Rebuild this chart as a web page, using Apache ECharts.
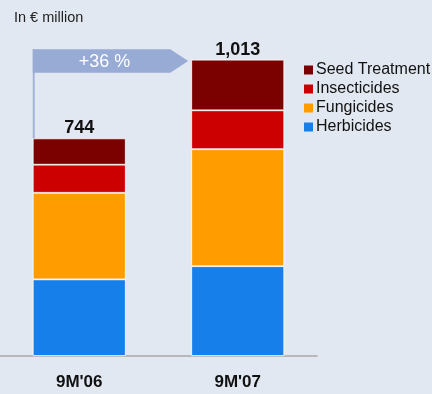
<!DOCTYPE html>
<html><head><meta charset="utf-8">
<script src="https://cdn.jsdelivr.net/npm/echarts@6/dist/echarts.min.js"></script>
<style>html,body{margin:0;padding:0;background:#e2e8f1;}#c{width:432px;height:394px;}</style>
</head><body><div id="c"></div>
<script>
var categories = ["9M'06", "9M'07"];
var herbicides = [262, 307];
var fungicides = [296, 400];
var insecticides = [96, 133];
var seedTreatment = [90, 173];
var totals = ["744", "1,013"];
var growthLabel = "+36 %";
var unitLabel = "In \u20ac million";

var chart = echarts.init(document.getElementById('c'), null, {renderer: 'canvas'});
var FONT = '"Liberation Sans", Arial, sans-serif';
function mk(name, data, color, extra) {
  var s = {name: name, type: 'bar', stack: 'a', data: data, barWidth: 93,
    itemStyle: {color: color, borderColor: '#ffffff', borderWidth: 0.8}, animation: false};
  if (extra) for (var k in extra) s[k] = extra[k];
  return s;
}
var option = {
  backgroundColor: '#e2e8f1',
  animation: false,
  title: {text: unitLabel, left: 9, top: 5, textStyle: {fontFamily: FONT, fontSize: 14.5, fontWeight: 'normal', color: '#222'}},
  legend: {orient: 'vertical', left: 299, top: 57, itemWidth: 9, itemHeight: 9, itemGap: 3, icon: 'rect',
    itemStyle: {borderWidth: 0},
    data: ['Seed Treatment', 'Insecticides', 'Fungicides', 'Herbicides'],
    textStyle: {fontFamily: FONT, fontSize: 16, color: '#111', padding: [0, 0, 0, -2]}},
  grid: {left: 0, width: 317, top: 5, bottom: 38},
  xAxis: {type: 'category', data: categories, axisTick: {show: false},
    axisLine: {lineStyle: {color: '#a8a8a8', width: 1.5}},
    axisLabel: {margin: 18, fontFamily: FONT, fontSize: 17, fontWeight: 'bold', color: '#111'}},
  yAxis: {type: 'value', min: 0, max: 1200, show: false, splitLine: {show: false}},
  series: [
    mk('Herbicides', herbicides, '#167fe9'),
    mk('Fungicides', fungicides, '#ff9c00'),
    mk('Insecticides', insecticides, '#cc0000'),
    mk('Seed Treatment', seedTreatment, '#7b0000', {label: {show: true, position: 'top', distance: 1,
      fontFamily: FONT, fontSize: 18, fontWeight: 'bold', color: '#111',
      formatter: function (p) { return totals[p.dataIndex]; }}})
  ]
};
chart.setOption(option);

// growth arrow annotation positioned from axis scales
var tot0 = herbicides[0] + fungicides[0] + insecticides[0] + seedTreatment[0];
var tot1 = herbicides[1] + fungicides[1] + insecticides[1] + seedTreatment[1];
var p0 = chart.convertToPixel({gridIndex: 0}, [0, tot0]);
var p1 = chart.convertToPixel({gridIndex: 0}, [1, tot1]);
var half = 46.5;
var xL = p0[0] - half;
var xTip = p1[0] - half - 3;
var yTop = p1[1] - 10.5, yBot = p1[1] + 13, yMid = (yTop + yBot) / 2;
chart.setOption({graphic: [
  {type: 'line', shape: {x1: xL + 1, y1: yTop, x2: xL + 1, y2: p0[1]}, style: {stroke: '#a3b3d8', lineWidth: 2}, z: 10},
  {type: 'polygon', shape: {points: [[xL, yTop], [xTip - 18, yTop], [xTip, yMid], [xTip - 18, yBot], [xL, yBot]]},
    style: {fill: '#97abd4'}, z: 10},
  {type: 'text', x: (xL + xTip - 18) / 2 + 3, y: yMid + 1, style: {text: growthLabel, fill: '#ffffff', font: '18px ' + FONT,
    textAlign: 'center', textVerticalAlign: 'middle'}, z: 11}
]});
</script></body></html>
